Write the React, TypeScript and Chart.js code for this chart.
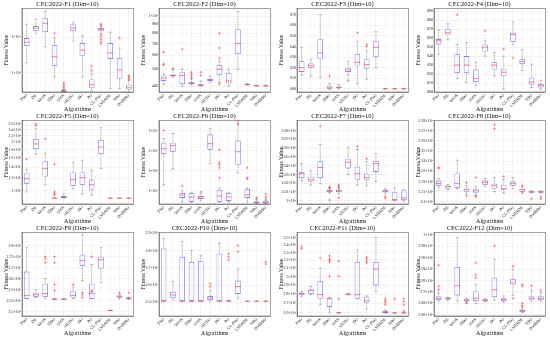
import React, { useEffect, useRef } from "react";
import { Chart, registerables } from "chart.js";
Chart.register(...registerables);

const FONT = "'Liberation Serif', 'DejaVu Serif', serif";

const ALGS = ["PSO", "DE", "WOA", "DBO", "SMA", "MGTO", "HO", "PO", "CL-PSO", "LSHADE", "SBO", "DMBBO"];

// boxes: [min, q1, median, q3, max] per algorithm
const F1_BOX = [[1900, 5600, 7200, 9350, 22900], [12900, 14700, 17800, 20300, 31600], [5300, 13700, 24300, 33700, 52700], [770, 1550, 2800, 6000, 9400], [300, 302, 305, 330, 340], [7700, 14700, 17800, 22900, 26000], [770, 3000, 4300, 6800, 10700], [316, 380, 465, 650, 940], [12900, 14700, 16600, 17800, 19500], [360, 2450, 3600, 6800, 13700], [360, 680, 1200, 2600, 4900], [300, 340, 380, 465, 600]];
const F1_OUT = [[], [], [], [12900], [370, 410, 465, 525], [], [], [1150, 1550], [21500, 23000, 11500, 10000, 8500, 7200, 6400], [], [9400], [640, 700, 780, 830]];
const F1_TICKS = [1000, 10000];
const F1_LABELS = ["1×10³", "1×10⁴"];

const F2_BOX = [[410, 428, 445, 460, 470], [450, 456, 460, 465, 500], [400, 410, 460, 480, 500], [405, 410, 415, 420, 440], [400, 400, 405, 410, 428], [420, 428, 434, 440, 456], [420, 465, 500, 528, 555], [400, 415, 428, 475, 500], [500, 610, 700, 845, 1067], [405, 407, 409, 411, 413], [400, 400, 401, 403, 404], [400, 400, 401, 403, 405]];
const F2_OUT = [[625, 535, 528], [505], [650], [445, 458, 470, 480], [460, 480], [], [578, 660, 800, 410], [], [], [], [], []];
const F2_TICKS = [400, 500, 600, 700, 800, 900, 1000];
const F2_LABELS = ["400", "500", "600", "700", "800", "900", "1×10³"];

const F3_BOX = [[613, 616, 620, 626, 639], [612, 620, 622, 624, 628], [611, 628, 634, 647, 670], [599.5, 600, 601, 603, 605], [600, 601, 601.5, 602, 604], [613, 616, 618, 620, 626], [605, 622, 625, 633, 645], [609, 619, 623, 628, 636], [620, 630, 639, 645, 654], [600, 600, 600, 600, 600], [600, 600, 600, 600, 600], [600, 600, 600, 600, 600]];
const F3_OUT = [[], [], [], [612], [], [608], [653], [640, 642], [], [], [], []];
const F3_TICKS = [600, 610, 620, 630, 640, 650, 660, 670];
const F3_LABELS = ["600", "610", "620", "630", "640", "650", "660", "670"];

const F4_BOX = [[842, 853, 857, 859, 869], [858, 864, 866, 870, 876], [815, 821, 830, 842, 853], [811, 821, 830, 840, 855], [807, 811, 815, 825, 833], [840, 845, 850, 853, 857], [818, 825, 830, 833, 844], [803, 818, 822, 826, 840], [853, 856, 864, 866, 878], [824, 831, 834, 837, 847], [805, 808, 811, 816, 831], [803, 805, 807, 809, 813]];
const F4_OUT = [[], [], [886], [], [], [868], [], [848], [838], [], [], []];
const F4_TICKS = [800, 810, 820, 830, 840, 850, 860, 870, 880, 890];
const F4_LABELS = ["800", "810", "820", "830", "840", "850", "860", "870", "880", "890"];

const F5_BOX = [[985, 1107, 1191, 1281, 1358], [1690, 1817, 1955, 2103, 2433], [1091, 1226, 1378, 1526, 1715], [900, 900, 900, 902, 910], [903, 903, 916, 930, 957], [1030, 1076, 1174, 1300, 1504], [957, 1091, 1209, 1300, 1548], [943, 1015, 1091, 1174, 1339], [1378, 1690, 1871, 2072, 2468], [900, 900, 900, 900, 900], [900, 900, 900, 900, 900], [900, 900, 900, 900, 900]];
const F5_OUT = [[1571], [2540, 2615], [2103], [943, 960, 985, 1461], [], [], [], [], [], [], [], []];
const F5_TICKS = [1000, 1200, 1400, 1600, 1800, 2000, 2200, 2400, 2600];
const F5_LABELS = ["1×10³", "1.2×10³", "1.4×10³", "1.6×10³", "1.8×10³", "2×10³", "2.2×10³", "2.4×10³", "2.6×10³"];

const F6_BOX = [[20000, 708000, 1260000, 2500000, 4000000], [126000, 891000, 1780000, 2500000, 7100000], [2800, 4500, 6300, 7900, 10000], [2800, 2850, 5000, 7900, 8000], [3200, 4000, 5000, 5600, 7100], [224000, 1120000, 2240000, 6300000, 12600000], [2800, 2800, 5600, 11200, 14100], [2800, 3200, 5000, 7900, 8000], [79400, 200000, 891000, 3160000, 20000000], [2800, 4500, 6300, 12600, 14100], [2400, 2500, 2630, 3000, 3200], [2300, 2400, 2630, 3160, 3400]];
const F6_OUT = [[10000000], [], [17800], [], [8900], [], [44700, 141000, 200000, 251000, 1120000], [], [22400000, 30000000], [40000, 44700, 141000], [4000, 4500], [4000, 5000, 7100]];
const F6_TICKS = [10000, 100000, 1000000, 10000000];
const F6_LABELS = ["1×10⁴", "1×10⁵", "1×10⁶", "1×10⁷"];

const F7_BOX = [[2023, 2026, 2031, 2033, 2042.5], [2018, 2022, 2024, 2027.6, 2034.5], [2019.5, 2026, 2038, 2045, 2064], [2009, 2010, 2011.5, 2012.6, 2014], [2008, 2010, 2011.5, 2012.6, 2014], [2030, 2037, 2044, 2048, 2061], [2018, 2024, 2031, 2039, 2058.6], [2017, 2024, 2026.5, 2031, 2045], [2022, 2033, 2042.5, 2045, 2054], [2008, 2010, 2011.5, 2012.6, 2014], [2000, 2001, 2001, 2010, 2015], [2000, 2001, 2003.5, 2012, 2012.6]];
const F7_OUT = [[], [], [2085], [2015, 2016, 2001], [2015, 2017, 2018, 2003.5], [], [2062], [2048], [], [2003, 2005], [], []];
const F7_TICKS = [2000, 2010, 2020, 2030, 2040, 2050, 2060, 2070, 2080];
const F7_LABELS = ["2×10³", "2.01×10³", "2.02×10³", "2.03×10³", "2.04×10³", "2.05×10³", "2.06×10³", "2.07×10³", "2.08×10³"];

const F8_BOX = [[2214, 2216, 2218, 2221, 2223], [2212, 2213, 2215, 2216, 2217], [2213, 2214, 2218, 2228, 2241], [2208, 2210, 2212, 2213, 2216], [2207, 2209, 2211, 2213, 2215], [2215, 2217, 2219, 2221, 2223], [2210, 2213, 2216, 2218, 2224], [2209, 2212, 2213, 2217, 2222], [2213, 2216, 2218, 2220, 2224], [2210, 2210, 2212, 2213, 2215], [2209, 2209, 2210, 2211, 2211], [2209, 2209, 2210, 2211, 2211]];
const F8_OUT = [[2234, 2233], [], [], [2219, 2206], [2224, 2206, 2205], [], [2272, 2276], [2225], [], [2216, 2209], [2203], [2205, 2203]];
const F8_TICKS = [2200, 2210, 2220, 2230, 2240, 2250, 2260, 2270, 2280];
const F8_LABELS = ["2.2×10³", "2.21×10³", "2.22×10³", "2.23×10³", "2.24×10³", "2.25×10³", "2.26×10³", "2.27×10³", "2.28×10³"];

const F9_BOX = [[2559, 2559, 2573, 2682, 2791], [2564, 2568, 2577, 2586, 2600], [2559, 2568, 2582, 2627, 2650], [2555, 2555, 2557, 2559, 2561], [2555, 2555, 2557, 2559, 2560], [2559, 2564, 2573, 2595, 2612], [2641, 2709, 2732, 2759, 2850], [2559, 2559, 2582, 2627, 2714], [2632, 2695, 2736, 2750, 2791], [2505, 2505, 2505, 2506, 2506], [2559, 2564, 2568, 2573, 2577], [2555, 2559, 2561, 2564, 2566]];
const F9_OUT = [[], [], [2723, 2741, 2750], [2595, 2623, 2723, 2750], [], [2623], [2577, 2564, 2586], [2750, 2595, 2591], [], [], [2586], [2586]];
const F9_TICKS = [2500, 2550, 2600, 2650, 2700, 2750, 2800];
const F9_LABELS = ["2.5×10³", "2.55×10³", "2.6×10³", "2.65×10³", "2.7×10³", "2.75×10³", "2.8×10³"];

const F10_BOX = [[2506, 2506, 2506, 2812, 2872], [2512, 2524, 2542, 2560, 2620], [2506, 2506, 2506, 2764, 2854], [2506, 2506, 2506, 2734, 2800], [2506, 2506, 2506, 2740, 2770], [2506, 2512, 2524, 2536, 2566], [2506, 2506, 2506, 2782, 2842], [2506, 2506, 2506, 2510, 2512], [2524, 2548, 2590, 2626, 2692], [2506, 2506, 2506, 2506, 2506], [2506, 2506, 2506, 2506, 2506], [2506, 2506, 2506, 2506, 2506]];
const F10_OUT = [[], [], [], [], [], [2590, 2608], [], [2746, 2764, 2782], [2794, 2830], [], [], [2722, 2734]];
const F10_TICKS = [2500, 2600, 2700, 2800, 2900];
const F10_LABELS = ["2.5×10³", "2.6×10³", "2.7×10³", "2.8×10³", "2.9×10³"];

const F11_BOX = [[2772, 2794, 2806, 2817, 2829], [2795, 2806, 2840, 2852, 2886], [2685, 2750, 2795, 2945, 3103], [2600, 2663, 2750, 2761, 2765], [2600, 2600, 2600, 2602, 2605], [2790, 2795, 2800, 2806, 2812], [2750, 2750, 2795, 3180, 3335], [2640, 2706, 2728, 2772, 2780], [2829, 2898, 3090, 3180, 3500], [2600, 2600, 2610, 2622, 2630], [2600, 2600, 2600, 2600, 2600], [2600, 2600, 2600, 2600, 2610]];
const F11_OUT = [[3350, 3375], [], [3230], [3005, 3180, 3200, 3216, 3256], [2750, 3005, 3190], [], [], [3166, 3190, 3216, 3240], [], [2685, 2710, 2730, 2750], [2750], [2620, 2685, 2720, 2750]];
const F11_TICKS = [2600, 2700, 2800, 2900, 3000, 3100, 3200, 3300, 3400, 3500];
const F11_LABELS = ["2.6×10³", "2.7×10³", "2.8×10³", "2.9×10³", "3×10³", "3.1×10³", "3.2×10³", "3.3×10³", "3.4×10³", "3.5×10³"];

const F12_BOX = [[2884, 2886, 2889, 2892.5, 2898], [2885, 2887, 2889, 2890, 2891], [2884, 2894, 2911, 2944, 2995], [2880, 2884, 2886, 2887, 2889], [2880, 2884, 2889, 2901, 2913], [2883, 2884, 2886, 2887, 2888], [2886, 2891, 2904, 2925, 2957], [2882, 2884, 2887, 2889, 2893], [2894, 2913, 2916, 2923, 2940], [2864, 2865, 2867, 2868.5, 2870], [2884, 2887, 2889, 2892.5, 2904], [2884, 2886, 2889, 2892.5, 2899]];
const F12_OUT = [[2904, 2910, 2947], [], [], [2882], [2925, 2930, 2951], [], [2981], [], [2945, 2889], [2874, 2876, 2880, 2910, 2913], [2911], [2903]];
const F12_TICKS = [2860, 2880, 2900, 2920, 2940, 2960, 2980, 3000];
const F12_LABELS = ["2.86×10³", "2.88×10³", "2.9×10³", "2.92×10³", "2.94×10³", "2.96×10³", "2.98×10³", "3×10³"];

type PanelDef = {
  title: string; type: "linear" | "logarithmic"; min: number; max: number;
  ticks: number[]; labels: string[]; boxes: number[][]; outliers: number[][];
};

const PANELS: PanelDef[] = [
  { title: "CEC2022-F1 (Dim=10)", type: "logarithmic", min: 290, max: 63000, ticks: F1_TICKS, labels: F1_LABELS, boxes: F1_BOX, outliers: F1_OUT },
  { title: "CEC2022-F2 (Dim=10)", type: "logarithmic", min: 370, max: 1110, ticks: F2_TICKS, labels: F2_LABELS, boxes: F2_BOX, outliers: F2_OUT },
  { title: "CEC2022-F3 (Dim=10)", type: "linear", min: 597, max: 676, ticks: F3_TICKS, labels: F3_LABELS, boxes: F3_BOX, outliers: F3_OUT },
  { title: "CEC2022-F4 (Dim=10)", type: "linear", min: 800, max: 893, ticks: F4_TICKS, labels: F4_LABELS, boxes: F4_BOX, outliers: F4_OUT },
  { title: "CEC2022-F5 (Dim=10)", type: "logarithmic", min: 828, max: 2735, ticks: F5_TICKS, labels: F5_LABELS, boxes: F5_BOX, outliers: F5_OUT },
  { title: "CEC2022-F6 (Dim=10)", type: "logarithmic", min: 2240, max: 31600000, ticks: F6_TICKS, labels: F6_LABELS, boxes: F6_BOX, outliers: F6_OUT },
  { title: "CEC2022-F7 (Dim=10)", type: "linear", min: 1996.5, max: 2091.5, ticks: F7_TICKS, labels: F7_LABELS, boxes: F7_BOX, outliers: F7_OUT },
  { title: "CEC2022-F8 (Dim=10)", type: "linear", min: 2198, max: 2280, ticks: F8_TICKS, labels: F8_LABELS, boxes: F8_BOX, outliers: F8_OUT },
  { title: "CEC2022-F9 (Dim=10)", type: "linear", min: 2480, max: 2860, ticks: F9_TICKS, labels: F9_LABELS, boxes: F9_BOX, outliers: F9_OUT },
  { title: "CEC2022-F10 (Dim=10)", type: "linear", min: 2420, max: 2905, ticks: F10_TICKS, labels: F10_LABELS, boxes: F10_BOX, outliers: F10_OUT },
  { title: "CEC2022-F11 (Dim=10)", type: "logarithmic", min: 2569, max: 3571, ticks: F11_TICKS, labels: F11_LABELS, boxes: F11_BOX, outliers: F11_OUT },
  { title: "CEC2022-F12 (Dim=10)", type: "linear", min: 2858, max: 3004, ticks: F12_TICKS, labels: F12_LABELS, boxes: F12_BOX, outliers: F12_OUT },
];

const COL_X = [0, 137, 275, 412];
const ROW_Y = [0, 112, 224];
const PW = 138;
const PH = 114;

function BoxPanel({ def, left, top }: { def: PanelDef; left: number; top: number }) {
  const ref = useRef<HTMLCanvasElement | null>(null);
  useEffect(() => {
    if (!ref.current) return;
    const whiskers = {
      id: "whiskers",
      afterDatasetsDraw(chart: any) {
        const ctx = chart.ctx;
        const ys = chart.scales.y;
        const meta = chart.getDatasetMeta(0);
        ctx.save();
        def.boxes.forEach((b, i) => {
          const el = meta.data[i];
          if (!el) return;
          const x = el.x;
          const w = el.width;
          const pMin = ys.getPixelForValue(b[0]);
          const pQ1 = ys.getPixelForValue(b[1]);
          const pMed = ys.getPixelForValue(b[2]);
          const pQ3 = ys.getPixelForValue(b[3]);
          const pMax = ys.getPixelForValue(b[4]);
          ctx.strokeStyle = "rgba(0,0,0,0.5)";
          ctx.lineWidth = 0.5;
          ctx.setLineDash([1.2, 0.8]);
          ctx.beginPath();
          ctx.moveTo(x, pQ3); ctx.lineTo(x, pMax);
          ctx.moveTo(x, pQ1); ctx.lineTo(x, pMin);
          ctx.stroke();
          ctx.setLineDash([]);
          ctx.beginPath();
          ctx.moveTo(x - w / 4, pMax); ctx.lineTo(x + w / 4, pMax);
          ctx.moveTo(x - w / 4, pMin); ctx.lineTo(x + w / 4, pMin);
          ctx.stroke();
          ctx.strokeStyle = "#ff3030";
          ctx.lineWidth = 0.6;
          ctx.beginPath();
          ctx.moveTo(x - w / 2, pMed); ctx.lineTo(x + w / 2, pMed);
          ctx.stroke();
        });
        const a = chart.chartArea;
        ctx.strokeStyle = "#444";
        ctx.lineWidth = 0.5;
        ctx.strokeRect(a.left, a.top, a.right - a.left, a.bottom - a.top);
        ctx.restore();
      },
    };
    const outPts: { x: string; y: number }[] = [];
    def.outliers.forEach((arr, i) => arr.forEach((v) => outPts.push({ x: ALGS[i], y: v })));
    const chart = new Chart(ref.current, {
      type: "bar",
      data: {
        labels: ALGS,
        datasets: [
          {
            type: "bar",
            data: def.boxes.map((b) => [b[1], b[3]]) as any,
            backgroundColor: "rgba(0,0,0,0)",
            borderColor: "rgba(50,50,255,0.75)",
            borderWidth: 0.6,
            borderSkipped: false,
            barPercentage: 0.6,
            categoryPercentage: 1,
          } as any,
          {
            type: "scatter",
            data: outPts as any,
            pointStyle: "cross",
            pointRadius: 1.3,
            borderColor: "rgba(255,40,40,0.9)",
            backgroundColor: "rgba(255,40,40,0.9)",
            borderWidth: 0.5,
            showLine: false,
          } as any,
        ],
      },
      options: {
        animation: false,
        responsive: false,
        devicePixelRatio: 1,
        layout: { padding: { left: 1, right: 4, top: 0, bottom: 2 } },
        plugins: {
          legend: { display: false },
          tooltip: { enabled: false },
          title: {
            display: true,
            text: def.title,
            color: "#111",
            font: { family: FONT, size: 6.5, weight: "normal" as any, lineHeight: 1 },
            padding: { top: 1, bottom: 1 },
          },
        },
        scales: {
          x: {
            type: "category",
            offset: true,
            grid: { offset: false, color: "#e8e8e8", lineWidth: 0.5, drawTicks: false },
            border: { display: true, color: "#444", width: 0.5 },
            ticks: { font: { family: FONT, size: 4.2 }, color: "#222", minRotation: 45, maxRotation: 45, autoSkip: false, padding: 1 },
            title: { display: true, text: "Algorithms", color: "#111", font: { family: FONT, size: 6, lineHeight: 1 }, padding: { top: 0, bottom: 0 } },
            afterFit: (s: any) => { s.height = 20; },
          },
          y: {
            type: def.type,
            min: def.min,
            max: def.max,
            afterBuildTicks: (s: any) => { s.ticks = def.ticks.map((v) => ({ value: v })); },
            grid: { color: "#e8e8e8", lineWidth: 0.5, drawTicks: false },
            border: { display: true, color: "#444", width: 0.5 },
            ticks: {
              font: { family: FONT, size: 4 },
              color: "#222",
              autoSkip: false,
              padding: 1,
              callback: (_v: any, i: number) => def.labels[i],
            },
            title: { display: true, text: "Fitness Value", color: "#111", font: { family: FONT, size: 5.8, lineHeight: 1 }, padding: { top: 3, bottom: 0 } },
            afterFit: (s: any) => { s.width = 21; },
          } as any,
        },
      },
      plugins: [whiskers],
    });
    return () => chart.destroy();
  }, [def]);
  return (
    <canvas
      ref={ref}
      width={PW}
      height={PH}
      style={{ position: "absolute", left, top, width: PW, height: PH }}
    />
  );
}

export default function App() {
  return (
    <div style={{ position: "fixed", left: 0, top: 0, width: 550, height: 339, background: "#fff", overflow: "hidden" }}>
      {PANELS.map((p, i) => (
        <BoxPanel key={i} def={p} left={COL_X[i % 4]} top={ROW_Y[Math.floor(i / 4)]} />
      ))}
    </div>
  );
}
